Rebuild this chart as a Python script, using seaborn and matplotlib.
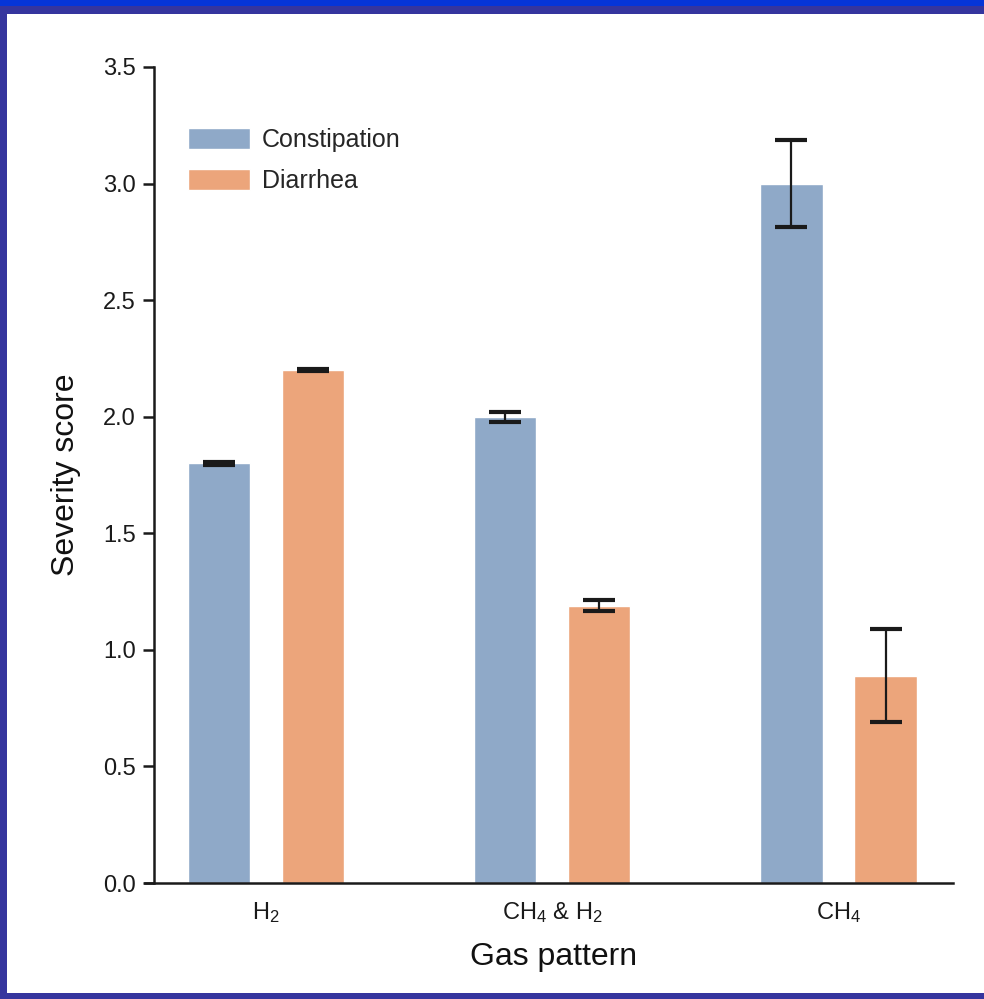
import numpy as np
import pandas as pd
import matplotlib
matplotlib.use("Agg")
import matplotlib.pyplot as plt
from matplotlib.patches import Rectangle
import seaborn as sns

patterns = ["$\\mathregular{H_2}$", "$\\mathregular{CH_4}$ & $\\mathregular{H_2}$", "$\\mathregular{CH_4}$"]
groups = ["Constipation", "Diarrhea"]
constipation = [1.80, 2.00, 3.00]
diarrhea = [2.20, 1.19, 0.89]
constipation_err = [0.005, 0.022, 0.185]
diarrhea_err = [0.005, 0.022, 0.20]
yticks = [0.0, 0.5, 1.0, 1.5, 2.0, 2.5, 3.0, 3.5]

df = pd.DataFrame({
    "pattern": patterns * 2,
    "group": [groups[0]] * 3 + [groups[1]] * 3,
    "score": constipation + diarrhea,
})

sns.set_style("white")
plt.rcParams["font.family"] = ["Liberation Sans", "DejaVu Sans"]

W, H = 984, 999
fig = plt.figure(figsize=(W / 100, H / 100), dpi=100, facecolor="#35359e")
# frame around the panel
fig.patches.append(Rectangle((0, 1 - 6 / H), 1, 6 / H, transform=fig.transFigure,
                             facecolor="#0535d8", edgecolor="none", zorder=-5))
fig.patches.append(Rectangle((7 / W, 6 / H), 1, 1 - 20 / H, transform=fig.transFigure,
                             facecolor="white", edgecolor="none", zorder=-5))

ax = fig.add_axes([154 / W, (H - 883) / H, (953 - 154) / W, (883 - 67) / H])
ax.set_facecolor("none")

w = 0.657
sns.barplot(data=df, x="pattern", y="score", hue="group", order=patterns,
            hue_order=groups, palette=["#8fa9c8", "#eca57b"], saturation=1,
            width=w, gap=0.34, errorbar=None, ax=ax, zorder=2)

for cont, errs in zip(ax.containers, [constipation_err, diarrhea_err]):
    xs = [p.get_x() + p.get_width() / 2 for p in cont]
    ys = [p.get_height() for p in cont]
    ax.errorbar(xs, ys, yerr=errs, fmt="none", ecolor="#1a1a1a", elinewidth=1.6,
                capsize=11.5, capthick=3, zorder=3)

ax.set_xlim(-0.391, 2.40)
ax.set_ylim(0, 3.5)
ax.set_yticks(yticks)
ax.set_yticklabels([f"{t:.1f}" for t in yticks])
sns.despine(ax=ax)
for s in ["left", "bottom"]:
    ax.spines[s].set_color("#1a1a1a")
    ax.spines[s].set_linewidth(1.8)
ax.spines["bottom"].set_bounds(-0.391 - 9 / 286, 2.40)
ax.tick_params(axis="y", left=True, length=8, width=1.8, color="#1a1a1a",
               labelsize=17, pad=5, labelcolor="#1a1a1a")
ax.tick_params(axis="x", bottom=False, labelsize=17, pad=9, labelcolor="#1a1a1a")
ax.set_xlabel("Gas pattern", fontsize=23, color="#111111", labelpad=12)
ax.set_ylabel("Severity score", fontsize=23, color="#111111", labelpad=16)

handles, labels = ax.get_legend_handles_labels()
ax.legend(handles, labels, loc="upper left", bbox_to_anchor=(0.0426, 0.925),
          frameon=False, fontsize=18, handlelength=2.48, handleheight=0.88,
          labelspacing=0.68, borderaxespad=0, borderpad=0, handletextpad=0.48)

fig.savefig("out.png", dpi=100, facecolor=fig.get_facecolor())
